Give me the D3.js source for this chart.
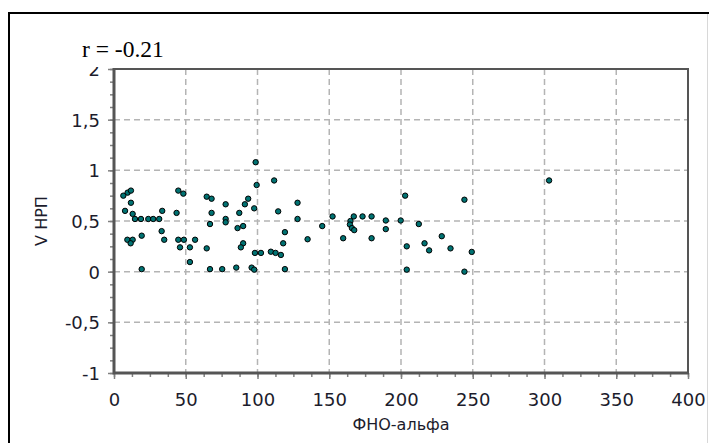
<!DOCTYPE html>
<html>
<head>
<meta charset="utf-8">
<script src="https://cdn.jsdelivr.net/npm/d3@7"></script>
<style>
    body { margin: 0; background: #fff; }
    svg { display: block; }
    .tick-label { font-family: 'DejaVu Sans', Verdana, sans-serif; font-size: 18px; fill: #1c1c2c; }
    .axis-title { font-family: 'DejaVu Sans', Verdana, sans-serif; font-size: 16px; fill: #1c1c2c; }
</style>
</head>
<body>
<svg id="chart"></svg>
<script>
// ФНО-альфа vs V НРП, one entry per patient
const tnfAlpha = [
    6.5, 9.5, 11.8, 11.8, 7.7, 13, 14.6, 18.8, 23.9, 27.3,
    31.5, 33.6, 33.2, 35, 9.3, 13, 11.6, 19.3, 19.3, 43.6,
    44.8, 48.3, 44.8, 48.7, 46, 52.9, 56.5, 52.9, 64.6, 68,
    68, 66.9, 64.6, 66.9, 75.4, 77.8, 77.8, 77.8, 85.2, 87.3,
    86.1, 90, 91.2, 93.5, 97.7, 90, 88.4, 95.9, 97.7, 98.7,
    99.4, 98.2, 102.4, 111.6, 114.4, 109.3, 112.6, 116.3, 119.1, 117.9,
    119.1, 127.9, 127.9, 134.9, 145.1, 152.3, 159.7, 164.8, 164.4, 165.8,
    167.4, 167.1, 173.2, 179.5, 179.5, 189.4, 189.4, 199.8, 202.9, 204,
    204, 212.4, 216.4, 219.6, 228.4, 234.5, 244.2, 244.2, 249.3, 303.2
];
const vNrp = [
    0.75, 0.78, 0.80, 0.68, 0.60, 0.57, 0.52, 0.52, 0.52, 0.52,
    0.52, 0.60, 0.40, 0.315, 0.315, 0.315, 0.28, 0.355, 0.025, 0.58,
    0.80, 0.77, 0.315, 0.315, 0.24, 0.24, 0.315, 0.095, 0.74, 0.72,
    0.58, 0.47, 0.23, 0.025, 0.025, 0.665, 0.52, 0.487, 0.04, 0.58,
    0.43, 0.45, 0.665, 0.72, 0.625, 0.28, 0.24, 0.04, 0.02, 1.08,
    0.855, 0.185, 0.185, 0.90, 0.595, 0.197, 0.185, 0.165, 0.39, 0.28,
    0.025, 0.68, 0.52, 0.32, 0.45, 0.545, 0.33, 0.50, 0.465, 0.43,
    0.41, 0.545, 0.545, 0.545, 0.33, 0.505, 0.42, 0.505, 0.75, 0.25,
    0.02, 0.47, 0.28, 0.21, 0.35, 0.23, 0.71, 0.00, 0.195, 0.90
];

const xTickValues = [0, 50, 100, 150, 200, 250, 300, 350, 400];
const yTickValues = [-1, -0.5, 0, 0.5, 1, 1.5, 2];
const xTitle = 'ФНО-альфа';
const yTitle = 'V НРП';
const corrLabel = 'r = -0.21';

const config = {
    containerWidth: 709,
    containerHeight: 443,
    margin: { top: 69, right: 21, bottom: 70, left: 114 }
};

const width = config.containerWidth - config.margin.left - config.margin.right;
const height = config.containerHeight - config.margin.top - config.margin.bottom;

// comma decimals and a plain hyphen for negatives
const locale = d3.formatLocale({ decimal: ',', thousands: ' ', grouping: [3], currency: ['', ''], minus: '-' });
const fmt = locale.format('~g');

const svg = d3.select('#chart')
    .attr('width', config.containerWidth)
    .attr('height', config.containerHeight);

// outer frame (left + top edges, faint right edge)
svg.append('line').attr('x1', 9).attr('x2', 9).attr('y1', 12).attr('y2', config.containerHeight)
    .attr('stroke', '#000').attr('stroke-width', 2);
svg.append('line').attr('x1', 8).attr('x2', config.containerWidth).attr('y1', 13).attr('y2', 13)
    .attr('stroke', '#000').attr('stroke-width', 2);
svg.append('line').attr('x1', 707.5).attr('x2', 707.5).attr('y1', 14).attr('y2', config.containerHeight)
    .attr('stroke', '#d8d8d8').attr('stroke-width', 1);

const chart = svg.append('g')
    .attr('transform', `translate(${config.margin.left},${config.margin.top})`);

const x = d3.scaleLinear().domain([0, 400]).range([0, width]);
const y = d3.scaleLinear().domain([-1, 2]).range([height, 0]);

// dashed grid
chart.append('g').selectAll('line')
    .data(xTickValues)
    .join('line')
    .attr('x1', d => x(d)).attr('x2', d => x(d))
    .attr('y1', 0).attr('y2', height)
    .attr('stroke', '#b4b4b4').attr('stroke-width', 1.5)
    .attr('stroke-dasharray', '6,4');

chart.append('g').selectAll('line')
    .data(yTickValues)
    .join('line')
    .attr('x1', 0).attr('x2', width)
    .attr('y1', d => y(d)).attr('y2', d => y(d))
    .attr('stroke', '#b4b4b4').attr('stroke-width', 1.5)
    .attr('stroke-dasharray', '6,4');

// minor ticks, four per major step
const xMinor = chart.append('g')
    .attr('transform', `translate(0,${height})`)
    .call(d3.axisBottom(x).tickValues(d3.range(0, 400.01, 12.5)).tickSize(4).tickFormat(''));
const yMinor = chart.append('g')
    .call(d3.axisLeft(y).tickValues(d3.range(-1, 2.001, 0.125)).tickSize(4).tickFormat(''));

// major ticks with labels
const xAxis = chart.append('g')
    .attr('transform', `translate(0,${height})`)
    .call(d3.axisBottom(x).tickValues(xTickValues).tickSize(6).tickPadding(14).tickFormat(fmt));
const yAxis = chart.append('g')
    .call(d3.axisLeft(y).tickValues(yTickValues).tickSize(6).tickPadding(8).tickFormat(fmt));

[xMinor, yMinor, xAxis, yAxis].forEach(g => {
    g.select('.domain').remove();
    g.selectAll('.tick line').attr('stroke', '#808080').attr('stroke-width', 1.5);
    g.selectAll('.tick text').attr('class', 'tick-label').attr('font-size', null).attr('font-family', null);
});
yAxis.selectAll('.tick text').attr('dy', '0.36em');

// points
chart.append('g').selectAll('circle')
    .data(tnfAlpha.map((d, i) => ({ x: d, y: vNrp[i] })))
    .join('circle')
    .attr('cx', d => x(d.x))
    .attr('cy', d => y(d.y))
    .attr('r', 2.7)
    .attr('fill', '#007272')
    .attr('stroke', '#000')
    .attr('stroke-width', 1);

// plot box
chart.append('path')
    .attr('d', `M0,0H${width}V${height}`)
    .attr('fill', 'none').attr('stroke', '#555').attr('stroke-width', 2);
chart.append('path')
    .attr('d', `M0,-1V${height}H${width + 1}`)
    .attr('fill', 'none').attr('stroke', '#555').attr('stroke-width', 3);

// correlation caption sits on a white box that hides the top of the "2" label
const caption = svg.append('g');
caption.append('rect')
    .attr('x', 78).attr('y', 30).attr('width', 92).attr('height', 37)
    .attr('fill', '#fff');
caption.append('text')
    .attr('x', 82)
    .attr('y', 57)
    .style('font-family', "'Liberation Serif', 'Times New Roman', serif")
    .style('font-size', '23.5px')
    .style('fill', '#000')
    .text(corrLabel);

svg.append('text')
    .attr('class', 'axis-title')
    .attr('x', config.margin.left + width / 2)
    .attr('y', 430)
    .attr('text-anchor', 'middle')
    .text(xTitle);

svg.append('text')
    .attr('class', 'axis-title')
    .attr('transform', `translate(47,${config.margin.top + height / 2}) rotate(-90)`)
    .attr('text-anchor', 'middle')
    .text(yTitle);
</script>
</body>
</html>
